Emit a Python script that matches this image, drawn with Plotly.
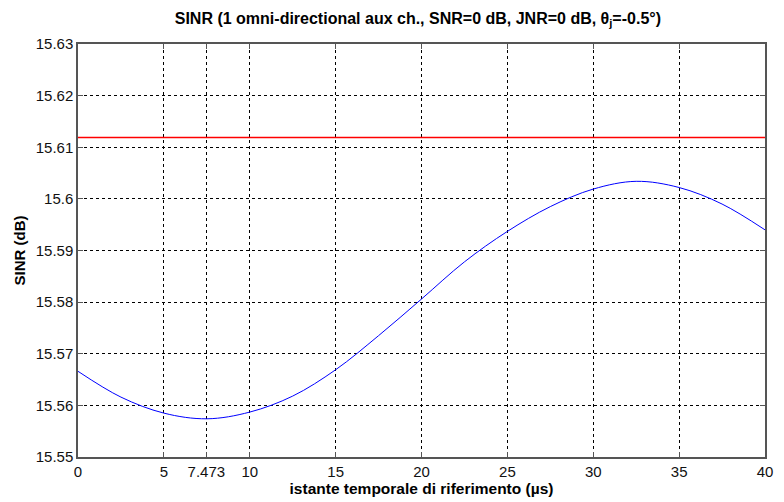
import plotly.graph_objects as go

# Reference instant (µs) and SINR (dB) of the blue curve
t_us = [0, 2.5, 5, 7.5, 10, 12.5, 15, 17.5, 20, 22.5, 25, 27.5, 30, 32.5, 35, 37.5, 40]
sinr_db = [15.5666, 15.5616, 15.5585, 15.5574, 15.5587, 15.5618, 15.5669,
           15.5735, 15.5806, 15.5878, 15.5937, 15.5985, 15.6019, 15.6034,
           15.6022, 15.5990, 15.5940]

# Constant reference level (red line)
ref_x = [0, 40]
ref_sinr = [15.6119, 15.6119]

x_ticks = [0, 5, 7.473, 10, 15, 20, 25, 30, 35, 40]
x_tick_text = ["0", "5", "7.473", "10", "15", "20", "25", "30", "35", "40"]
y_ticks = [15.55, 15.56, 15.57, 15.58, 15.59, 15.6, 15.61, 15.62, 15.63]
y_tick_text = ["15.55", "15.56", "15.57", "15.58", "15.59", "15.6", "15.61", "15.62", "15.63"]

fig = go.Figure()
fig.add_trace(go.Scatter(x=ref_x, y=ref_sinr, mode="lines",
                         line=dict(color="#ff0000", width=1.5), showlegend=False))
fig.add_trace(go.Scatter(x=t_us, y=sinr_db, mode="lines",
                         line=dict(color="#0000ff", width=1, shape="spline", smoothing=1.0),
                         showlegend=False))

font_family = "Liberation Sans, Arial, Helvetica, sans-serif"
axis_common = dict(
    showline=True, linecolor="#555555", linewidth=1.5, mirror="ticks",
    ticks="inside", ticklen=5, tickcolor="#555555",
    showgrid=True, gridcolor="#000000", gridwidth=1, griddash="3px,3px",
    zeroline=False, tickfont=dict(family=font_family, size=15, color="#111111"),
)

fig.update_xaxes(range=[0, 40], tickmode="array", tickvals=x_ticks, ticktext=x_tick_text,
                 title=dict(text="<b>istante temporale di riferimento (µs)</b>",
                            font=dict(family=font_family, size=15.5, color="#000000"),
                            standoff=0),
                 **axis_common)
fig.update_yaxes(range=[15.55, 15.63], tickmode="array", tickvals=y_ticks, ticktext=y_tick_text,
                 title=dict(text="<b>SINR (dB)</b>",
                            font=dict(family=font_family, size=15, color="#000000"),
                            standoff=6),
                 **axis_common)

fig.update_layout(
    width=784, height=502,
    margin=dict(l=78, r=11, t=44, b=41),
    paper_bgcolor="#ffffff", plot_bgcolor="#ffffff",
    title=dict(text="<b>SINR (1 omni-directional aux ch., SNR=0 dB, JNR=0 dB, θ<sub>j</sub>=-0.5°)</b>",
               x=0.533, xanchor="center", y=0.964, yanchor="middle",
               font=dict(family=font_family, size=16, color="#000000")),
)

fig.write_html("out.html")
